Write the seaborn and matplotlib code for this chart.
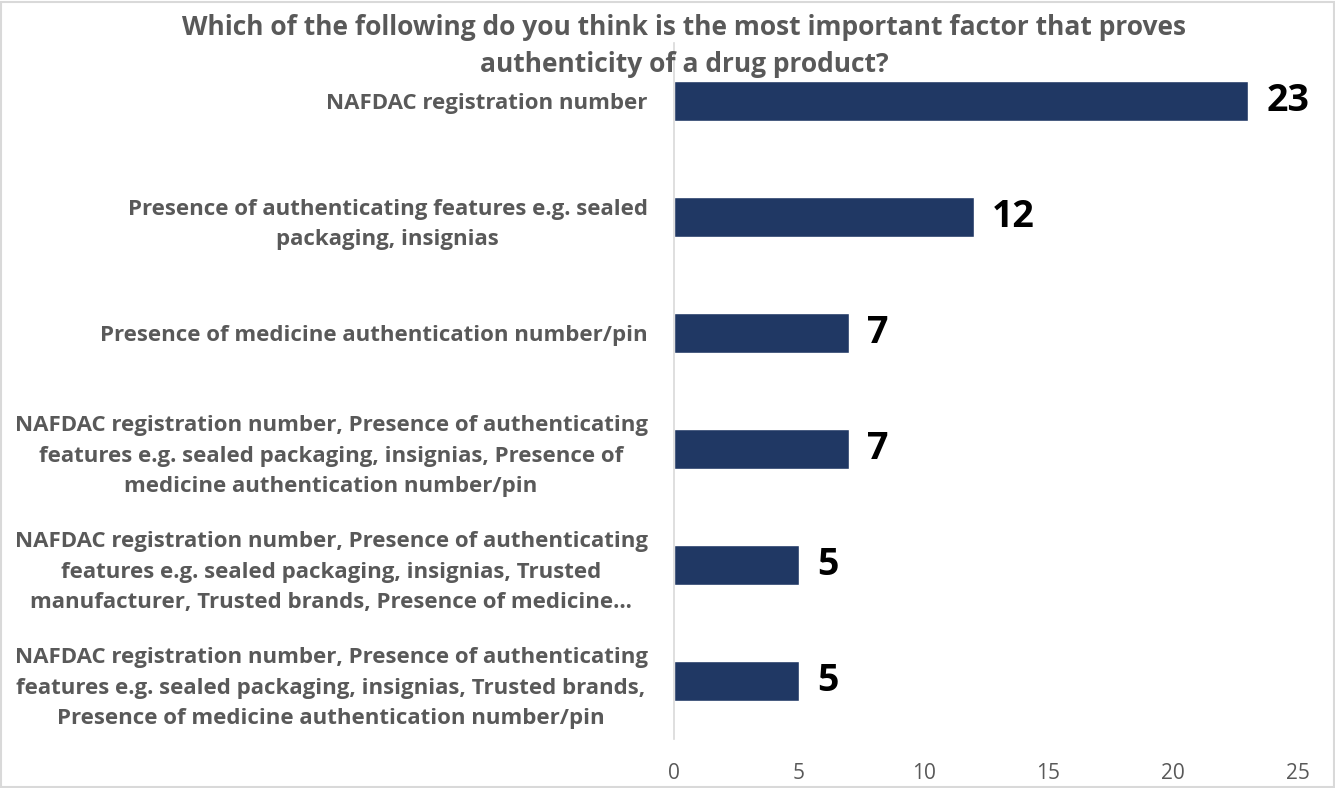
import matplotlib
matplotlib.use("Agg")
import matplotlib.pyplot as plt
import seaborn as sns
import pandas as pd

categories = [
    "NAFDAC registration number",
    "Presence of authenticating features e.g. sealed\npackaging, insignias",
    "Presence of medicine authentication number/pin",
    "NAFDAC registration number, Presence of authenticating\nfeatures e.g. sealed packaging, insignias, Presence of\nmedicine authentication number/pin",
    "NAFDAC registration number, Presence of authenticating\nfeatures e.g. sealed packaging, insignias, Trusted\nmanufacturer, Trusted brands, Presence of medicine…",
    "NAFDAC registration number, Presence of authenticating\nfeatures e.g. sealed packaging, insignias, Trusted brands,\nPresence of medicine authentication number/pin",
]
counts = [23, 12, 7, 7, 5, 5]
x_ticks = [0, 5, 10, 15, 20, 25]
title = "Which of the following do you think is the most important factor that proves\nauthenticity of a drug product?"

sns.set_theme(style="white")
plt.rcParams["font.family"] = ["Open Sans", "DejaVu Sans"]

df = pd.DataFrame({"cat": categories, "n": counts})

fig = plt.figure(figsize=(13.35, 7.88), dpi=100)
ax = fig.add_axes([674/1335, 1 - 739/788, (1298-674)/1335, (739-43)/788])
sns.barplot(data=df, x="n", y="cat", ax=ax, color="#203864", saturation=1, width=0.345, orient="h")

ax.set_xlim(0, 25)
ax.set_xticks(x_ticks)
ax.set_xlabel("")
ax.set_ylabel("")
for s in ["top", "right", "bottom"]:
    ax.spines[s].set_visible(False)
ax.spines["left"].set_color("#d9d9d9")
ax.spines["left"].set_linewidth(1.2)
ax.tick_params(axis="x", length=0, pad=17, labelsize=15, labelcolor="#595959")
ax.tick_params(axis="y", length=0, pad=19, labelsize=16, labelcolor="#595959")
for t in ax.get_yticklabels():
    t.set_fontweight("bold")
    t.set_multialignment("center")
    t.set_linespacing(1.6)

for c in ax.containers:
    ax.bar_label(c, padding=13, fontsize=27, fontweight="bold", color="black")

fig.text(684/1335, 1 - 46/788, title, ha="center", va="center", fontsize=19,
         fontweight="bold", color="#595959", linespacing=1.5)

fig.patches.append(plt.Rectangle((0.001, 0.001), 0.998, 0.997, transform=fig.transFigure,
                                 fill=False, edgecolor="#d9d9d9", linewidth=1.5))
fig.savefig("out.png", dpi=100, facecolor="white")
